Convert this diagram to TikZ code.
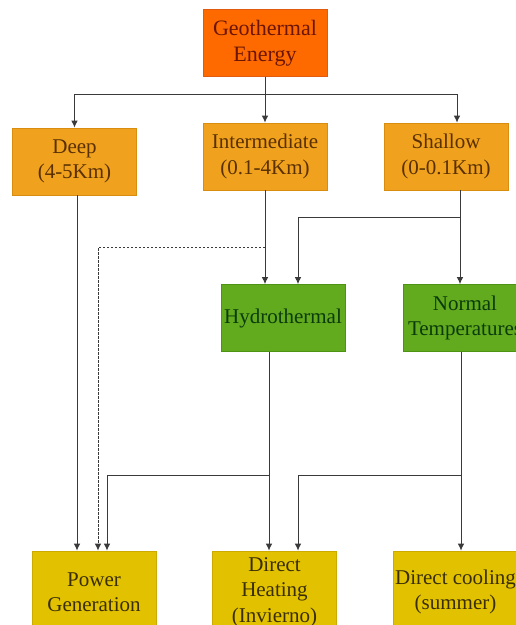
\documentclass[tikz,border=0pt]{standalone}
\usepackage{fontspec}
\setmainfont{Liberation Serif}
\usetikzlibrary{arrows.meta,positioning,calc}
\definecolor{geofill}{HTML}{FF6A00}
\definecolor{geodraw}{HTML}{E05A10}
\definecolor{geotext}{HTML}{6B1500}
\definecolor{depthfill}{HTML}{F0A21E}
\definecolor{depthdraw}{HTML}{D88C10}
\definecolor{depthtext}{HTML}{5A3000}
\definecolor{kindfill}{HTML}{62AA1E}
\definecolor{kinddraw}{HTML}{4E9414}
\definecolor{kindtext}{HTML}{0B3B0B}
\definecolor{appfill}{HTML}{E2C200}
\definecolor{appdraw}{HTML}{CCAA00}
\definecolor{apptext}{HTML}{3A2E00}
\definecolor{linegray}{HTML}{3A3A3A}

\begin{document}
\begin{tikzpicture}[x=1pt, y=-1pt,
        block/.style={rectangle, draw, line width=0.6pt, minimum width=124pt, minimum height=67pt, inner sep=0pt, align=center, font=\fontsize{21}{25.5}\selectfont},
        geo/.style={block, fill=geofill, draw=geodraw, text=geotext, font=\fontsize{22}{26}\selectfont},
        depth/.style={block, fill=depthfill, draw=depthdraw, text=depthtext},
        kind/.style={block, fill=kindfill, draw=kinddraw, text=kindtext},
        app/.style={block, minimum height=82pt, fill=appfill, draw=appdraw, text=apptext},
        line/.style={draw=linegray, -{Latex[length=7pt,width=6.5pt]}, line width=1pt},
        dotline/.style={line, dash pattern=on 2.5pt off 1.5pt}]

        \useasboundingbox (0,0) rectangle (516,625);
        \clip (0,0) rectangle (516,625);

        \node [geo] (geo) at (265,43) {Geothermal\\Energy};
        \node [depth] (deep) at (74.5,161.5) {Deep\\(4-5Km)};
        \node [depth] (inter) at (265,156.5) {Intermediate\\(0.1-4Km)};
        \node [depth] (shallow) at (446,156.5) {Shallow\\(0-0.1Km)};
        \node [kind] (hydro) at (283,318) {Hydrothermal};
        \node [kind] (normal) at (465,318) {Normal\\Temperatures};
        \node [app] (power) at (94,592) {Power\\Generation};
        \node [app] (heat) at (274.5,592) {Direct\\Heating\\(Invierno)};
        \node [app] (cool) at (455.5,592) {Direct cooling\\(summer)};

        \coordinate (split) at (265,94);
        \coordinate (tap) at (265,247);
        \coordinate (fork) at (460,217);
        \coordinate (hsplit) at (269,475);
        \coordinate (nsplit) at (461,475);

        % depth levels
        \path [line] (geo) -- (inter);
        \path [line] (split) -| (deep.north);
        \path [line] (split) -| ([xshift=11pt]shallow.north);

        % resource types
        \path [line] (inter.south) -- (inter.south |- hydro.north);
        \path [line] ([xshift=14pt]shallow.south) -- ([xshift=-5pt]normal.north);
        \path [line] (fork) -| ([xshift=15pt]hydro.north);
        \path [dotline] (tap) -| ([xshift=4pt]power.north); % possible use

        % applications
        \path [line] ([xshift=2.5pt]deep.south) -- ([xshift=-17pt]power.north);
        \path [line] ([xshift=-14pt]hydro.south) -- ([xshift=-5.5pt]heat.north);
        \path [line] (hsplit) -| ([xshift=13pt]power.north);
        \path [line] ([xshift=-4pt]normal.south) -- ([xshift=5.5pt]cool.north);
        \path [line] (nsplit) -| ([xshift=23.5pt]heat.north);
    \end{tikzpicture}
\end{document}
